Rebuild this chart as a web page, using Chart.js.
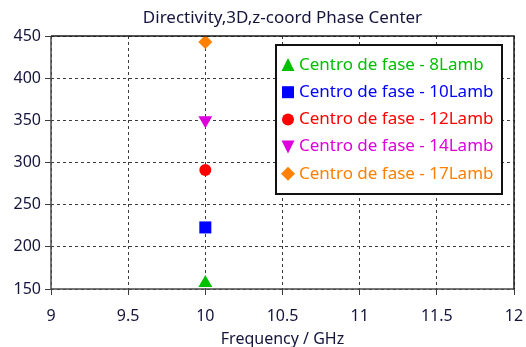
<!DOCTYPE html>
<html>
<head>
<meta charset="utf-8">
<script src="https://cdn.jsdelivr.net/npm/chart.js@4/dist/chart.umd.min.js"></script>
<style>
  html, body { margin: 0; padding: 0; background: #ffffff; }
  #wrap { width: 526px; height: 347px; position: relative; }
</style>
</head>
<body>
<div id="wrap"><canvas id="c" width="526" height="347"></canvas></div>
<script>
// Phase-centre z-coordinate at 10 GHz for each horn length
const frequencies = [10, 10, 10, 10, 10];
const phaseCenter = [157, 223, 291, 350, 443];
const seriesLabels = [
  'Centro de fase - 8Lamb',
  'Centro de fase - 10Lamb',
  'Centro de fase - 12Lamb',
  'Centro de fase - 14Lamb',
  'Centro de fase - 17Lamb'
];
const seriesColors = ['#00c000', '#0000ff', '#ff0000', '#dd00dd', '#ff8000'];
const seriesShapes = ['triangle', 'rect', 'circle', 'triangle', 'rectRot'];
const seriesRotation = [0, 0, 0, 180, 0];
const seriesRadius = [8, 8.5, 6, 8, 7];
const xTicks = [9, 9.5, 10, 10.5, 11, 11.5, 12];
const yTicks = [150, 200, 250, 300, 350, 400, 450];

const FONT = 'Noto Sans';
const TEXT = '#14143c';

const datasets = seriesLabels.map((label, i) => ({
  label,
  data: [{ x: frequencies[i], y: phaseCenter[i] }],
  pointStyle: seriesShapes[i],
  rotation: seriesRotation[i],
  pointRadius: seriesRadius[i],
  pointHoverRadius: seriesRadius[i],
  backgroundColor: seriesColors[i],
  borderColor: seriesColors[i],
  borderWidth: 0,
  showLine: false
}));

// Frame around the plot area plus the inset legend box
const framePlugin = {
  id: 'frameAndLegend',
  afterDraw(chart) {
    const { ctx, chartArea: a } = chart;
    ctx.save();
    ctx.lineWidth = 1.5;
    ctx.strokeStyle = '#4a4a4a';
    ctx.beginPath();
    ctx.moveTo(a.left, a.top); ctx.lineTo(a.left, a.bottom); ctx.lineTo(a.right, a.bottom);
    ctx.stroke();
    ctx.strokeStyle = '#1a1a1a';
    ctx.beginPath();
    ctx.moveTo(a.left, a.top); ctx.lineTo(a.right, a.top); ctx.lineTo(a.right, a.bottom);
    ctx.stroke();

    // legend
    const bx = 276, by = 45, bw = 226, bh = 149;
    ctx.fillStyle = '#ffffff';
    ctx.fillRect(bx, by, bw, bh);
    ctx.lineWidth = 2;
    ctx.strokeStyle = '#111111';
    ctx.strokeRect(bx, by, bw, bh);
    ctx.font = '17px "' + FONT + '"';
    ctx.textBaseline = 'middle';
    ctx.textAlign = 'left';
    chart.data.datasets.forEach((ds, i) => {
      const cy = 65 + i * 27.2;
      const mx = 288;
      ctx.fillStyle = ds.backgroundColor;
      ctx.beginPath();
      const s = ds.pointStyle;
      if (s === 'triangle' && ds.rotation === 0) {
        ctx.moveTo(mx, cy - 7); ctx.lineTo(mx + 6.5, cy + 6); ctx.lineTo(mx - 6.5, cy + 6);
      } else if (s === 'triangle') {
        ctx.moveTo(mx - 6.5, cy - 6); ctx.lineTo(mx + 6.5, cy - 6); ctx.lineTo(mx, cy + 7);
      } else if (s === 'rect') {
        ctx.rect(mx - 6, cy - 6, 12, 12);
      } else if (s === 'circle') {
        ctx.arc(mx, cy, 6, 0, Math.PI * 2);
      } else {
        ctx.moveTo(mx, cy - 7); ctx.lineTo(mx + 7, cy); ctx.lineTo(mx, cy + 7); ctx.lineTo(mx - 7, cy);
      }
      ctx.closePath();
      ctx.fill();
      ctx.fillText(ds.label, 299, cy);
    });
    ctx.restore();
  }
};

new Chart(document.getElementById('c'), {
  type: 'scatter',
  data: { datasets },
  options: {
    responsive: false,
    animation: false,
    events: [],
    layout: { padding: { left: 0, right: 12, top: 0, bottom: 0 } },
    plugins: {
      legend: { display: false },
      tooltip: { enabled: false },
      title: {
        display: true,
        fullSize: false,
        text: 'Directivity,3D,z-coord Phase Center',
        color: TEXT,
        font: { family: FONT, size: 17, weight: 'normal' },
        padding: { top: 8, bottom: 7.6 }
      }
    },
    scales: {
      x: {
        type: 'linear',
        min: 9, max: 12,
        afterBuildTicks(scale) { scale.ticks = xTicks.map(v => ({ value: v })); },
        afterFit(scale) {
          scale.height = 58;
          scale.paddingLeft = 0;
          scale.paddingRight = 0;
        },
        ticks: {
          color: TEXT,
          font: { family: FONT, size: 16 },
          padding: 12,
          maxRotation: 0,
          callback: v => String(v)
        },
        grid: {
          color: '#3c3c3c',
          lineWidth: 1,
          tickLength: 6,
          tickColor: '#3c3c3c',
          tickBorderDash: []
        },
        border: { display: false, dash: [3, 3] },
        title: {
          display: true,
          text: 'Frequency / GHz',
          color: TEXT,
          font: { family: FONT, size: 16 },
          padding: { top: 0, bottom: -2 }
        }
      },
      y: {
        type: 'linear',
        min: 150, max: 450,
        afterBuildTicks(scale) { scale.ticks = yTicks.map(v => ({ value: v })); },
        afterFit(scale) {
          scale.width = 51;
          scale.paddingTop = 0;
          scale.paddingBottom = 0;
        },
        ticks: {
          color: TEXT,
          font: { family: FONT, size: 16 },
          padding: 4
        },
        grid: {
          color: '#3c3c3c',
          lineWidth: 1,
          tickLength: 6,
          tickColor: '#3c3c3c',
          tickBorderDash: []
        },
        border: { display: false, dash: [3, 3] }
      }
    }
  },
  plugins: [framePlugin]
});
</script>
</body>
</html>
